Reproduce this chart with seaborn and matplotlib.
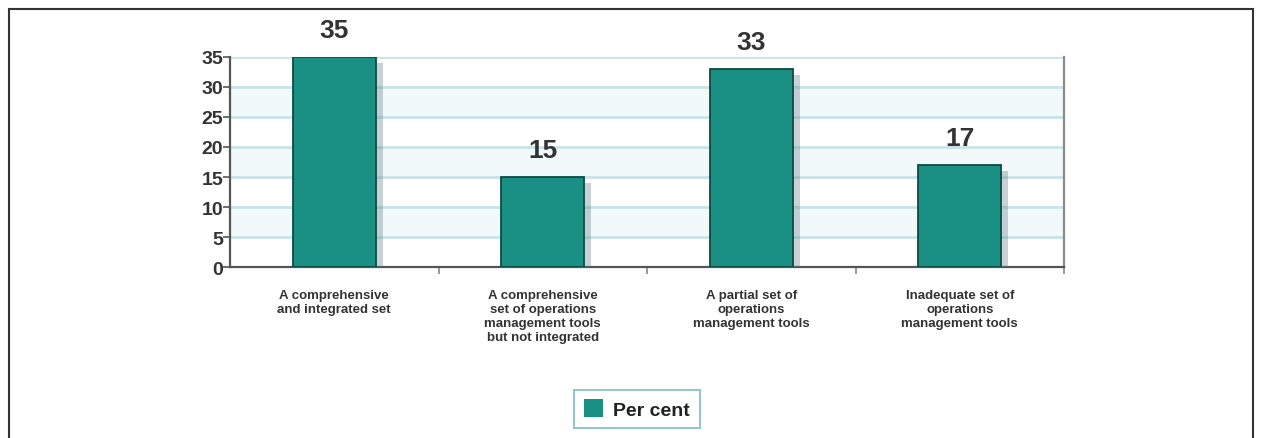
import matplotlib
matplotlib.use("Agg")
import matplotlib.pyplot as plt
import matplotlib.patheffects as pe
from matplotlib.patches import Rectangle
import seaborn as sns
import pandas as pd

categories = [
    "A comprehensive\nand integrated set",
    "A comprehensive\nset of operations\nmanagement tools\nbut not integrated",
    "A partial set of\noperations\nmanagement tools",
    "Inadequate set of\noperations\nmanagement tools",
]
per_cent = [35, 15, 33, 17]
y_ticks = [0, 5, 10, 15, 20, 25, 30, 35]
series_name = "Per cent"

df = pd.DataFrame({"category": categories, "value": per_cent, "series": series_name})

sns.set_theme(style="white")
plt.rcParams["font.family"] = ["Liberation Sans", "DejaVu Sans"]

teal = "#1a8f84"
fig = plt.figure(figsize=(12.61, 4.39), dpi=100)
ax = fig.add_axes([0.1824, 0.3895, 0.6614, 0.4784])

sns.barplot(data=df, x="category", y="value", hue="series", palette=[teal],
            saturation=1, width=0.4, ax=ax, legend=False, zorder=3)

for bar in ax.patches:
    bar.set_edgecolor("#0d4a44")
    bar.set_linewidth(1.3)
    bar.set_path_effects([pe.SimplePatchShadow(offset=(5, -4), shadow_rgbFace="#5f7f86", alpha=0.35),
                          pe.Normal()])

ax.set_ylim(0, 35)
ax.set_xlim(-0.5, len(categories) - 0.5)
ax.set_yticks(y_ticks)
ax.set_yticklabels([str(t) for t in y_ticks], fontsize=14, fontweight="bold", color="#333333")
ax.set_xticks(range(len(categories)))
ax.set_xticklabels(categories, fontsize=9.5, fontweight="bold", color="#333333", linespacing=1.2)
ax.tick_params(axis="x", length=0, pad=16)
ax.tick_params(axis="y", length=5, width=1.2, color="#555555", direction="out", pad=0, left=True)
ax.set_xticks([i + 0.5 for i in range(len(categories))], minor=True)
ax.tick_params(axis="x", which="minor", length=5, width=1.2, color="#888888", bottom=True)
ax.set_xlabel("")
ax.set_ylabel("")

# pale banded background with light blue grid lines
for lo in range(0, 35, 10):
    ax.axhspan(lo + 5, lo + 10, color="#f2f9fb", zorder=0)
ax.yaxis.grid(True, color="#c9e3ea", linewidth=2.0, zorder=1)
ax.set_axisbelow(True)

for side in ["left", "bottom", "right"]:
    ax.spines[side].set_visible(True)
    ax.spines[side].set_color("#555555")
    ax.spines[side].set_linewidth(1.6)
ax.spines["right"].set_color("#8a8a8a")
ax.spines["top"].set_visible(False)

for bar, v in zip(ax.patches, per_cent):
    ax.annotate(str(v), (bar.get_x() + bar.get_width() / 2, v), xytext=(0, 11),
                textcoords="offset points", ha="center", va="bottom",
                fontsize=19, fontweight="bold", color="#333333", annotation_clip=False)

# legend box
handle = Rectangle((0, 0), 1, 1, facecolor=teal, edgecolor="none")
leg = fig.legend([handle], [series_name], loc="center", bbox_to_anchor=(637 / 1261, 1 - 410 / 439),
                 frameon=True, fancybox=False, handlelength=1.0, handleheight=1.0,
                 handletextpad=0.5, borderpad=0.5,
                 prop={"weight": "bold", "size": 14})
leg.get_frame().set_edgecolor("#7fb7bd")
leg.get_frame().set_linewidth(1.5)
for t in leg.get_texts():
    t.set_color("#222222")

# outer page frame
fig.patches.append(Rectangle((9 / 1261, -0.05), (1253 - 9) / 1261, 1 - 10 / 439 + 0.05,
                             transform=fig.transFigure, fill=False, edgecolor="#333333",
                             linewidth=1.5, clip_on=False))

fig.savefig("out.png", dpi=100)
